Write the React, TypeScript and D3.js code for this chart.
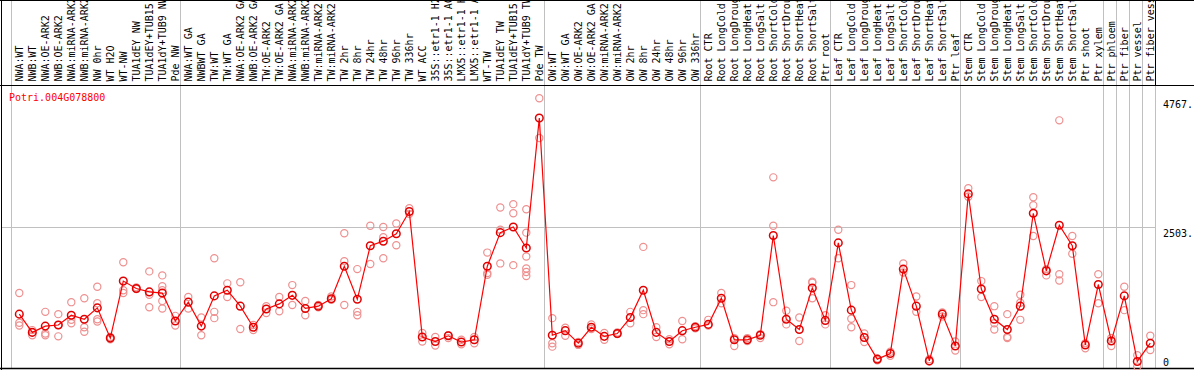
import * as d3 from 'd3';
import {useEffect, useRef} from "react";

const geneId = "Potri.004G078800";

const samples = [
    "NWA:WT", "NWB:WT", "NWA:OE-ARK2", "NWB:OE-ARK2", "NWA:miRNA-ARK2", "NWB:miRNA-ARK2",
    "NW 0hr", "WT H2O", "WT-NW", "TUA1dEY NW", "TUA1dEY+TUB15 NW", "TUA1dY+TUB9 NW", "Pde NW",
    "NWA:WT GA", "NWBWT GA", "TW:WT", "TW:WT GA", "NWA:OE-ARK2 GA", "NWB:OE-ARK2 GA",
    "TW:OE-ARK2", "TW:OE-ARK2 GA", "NWA:miRNA-ARK2", "NWB:miRNA-ARK2", "TW:miRNA-ARK2", "TW:miRNA-ARK2",
    "TW 2hr", "TW 8hr", "TW 24hr", "TW 48hr", "TW 96hr", "TW 336hr", "WT ACC",
    "35S::etr1-1 H2O", "35S::etr1-1 ACC", "LMX5::etr1-1 H2O", "LMX5::etr1-1 ACC",
    "WT-TW", "TUA1dEY TW", "TUA1dEY+TUB15 TW", "TUA1dY+TUB9 TW", "Pde TW",
    "OW:WT", "OW:WT GA", "OW:OE-ARK2", "OW:OE-ARK2 GA", "OW:miRNA-ARK2", "OW:miRNA-ARK2",
    "OW 2hr", "OW 8hr", "OW 24hr", "OW 48hr", "OW 96hr", "OW 336hr",
    "Root CTR", "Root LongCold", "Root LongDrought", "Root LongHeat", "Root LongSalt",
    "Root ShortCold", "Root ShortDrought", "Root ShortHeat", "Root ShortSalt", "Ptr root",
    "Leaf CTR", "Leaf LongCold", "Leaf LongDrought", "Leaf LongHeat", "Leaf LongSalt",
    "Leaf ShortCold", "Leaf ShortDrought", "Leaf ShortHeat", "Leaf ShortSalt", "Ptr leaf",
    "Stem CTR", "Stem LongCold", "Stem LongDrought", "Stem LongHeat", "Stem LongSalt",
    "Stem ShortCold", "Stem ShortDrought", "Stem ShortHeat", "Stem ShortSalt", "Ptr shoot",
    "Ptr xylem", "Ptr phloem", "Ptr fiber", "Ptr vessel", "Ptr fiber vessel"
];

// mean expression per sample
const means = [
    980, 660, 770, 790, 960, 890, 1090, 560, 1560, 1430, 1370, 1350, 860,
    1190, 770, 1300, 1400, 1120, 750, 1070, 1160, 1310, 1080, 1120, 1250,
    1820, 1240, 2180, 2260, 2390, 2780, 580, 500, 600, 490, 530,
    1820, 2410, 2510, 2140, 4420,
    610, 690, 470, 750, 590, 640, 920, 1400, 660, 500, 690, 750,
    800, 1260, 530, 530, 610, 2360, 890, 710, 1440, 870,
    2230, 1050, 570, 190, 290, 1770, 1120, 160, 980, 420,
    3090, 1420, 890, 710, 1120, 2750, 1740, 2540, 2180, 440,
    1500, 510, 1300, 150, 470
];

// individual replicates per sample
const replicates = [
    [1350, 830, 780], [700, 610, 660], [1020, 640, 610], [980, 790, 590], [1190, 880, 820],
    [1260, 750, 670], [1460, 1170, 890, 850], [580, 540], [1890, 1400, 1350], [1450, 1420],
    [1730, 1320, 1100], [1660, 1470, 1400, 1210, 1080], [950, 780],
    [1280, 1080], [920, 610], [1960, 1020, 910], [1520, 1280], [1540, 720], [790, 700],
    [1120, 1000], [1280, 1030], [1490, 1140], [1210, 960], [1100, 1140], [1290, 1230],
    [2400, 1910, 1140], [1770, 1020, 960], [2530, 1860], [2510, 2330, 1960], [2570, 2190],
    [2840, 2740], [650, 500], [580, 430], [610, 560], [530, 450], [580, 470],
    [2060, 1700, 1670], [2850, 2460, 1870], [2910, 2750, 1840],
    [2820, 2410, 1990, 1780, 1720, 1650], [4767, 4070],
    [910, 470, 410], [740, 600], [490, 440], [800, 720], [650, 530], [630, 660],
    [1020, 820], [2160, 1050, 980], [750, 580], [540, 450], [860, 540], [770, 730],
    [880, 780], [1350, 1170], [560, 420], [560, 510], [630, 560], [3380, 2530, 1190],
    [1040, 800], [920, 510], [1550, 1530, 1260], [960, 800],
    [2460, 1960], [1490, 900, 750], [640, 490], [200, 170], [320, 250], [1870, 1710],
    [1290, 1020], [190, 150], [1010, 940], [500, 340],
    [3190, 3040], [1560, 1280], [1120, 820, 710], [980, 580, 560], [1320, 1180, 880],
    [3030, 2890, 2350], [1770, 1660], [4380, 1680, 1570], [2350, 2040], [470, 380],
    [1680, 1170], [560, 420], [1460, 1050], [260, 60], [600, 350]
];

// sample index after which a group separator is drawn
const groupEnds = [0, 13, 41, 53, 63, 73, 84, 85, 86, 87, 88];

const yTicks = [0, 2503, 4767];
const yTickLabels = ["0", "2503.", "4767."];

export default function App() {
    const svgRef = useRef(null);

    const width = 1194;
    const height = 370;
    const headerH = 85.5;
    const plotRight = 1155.5;
    const font = "'DejaVu Sans Mono', monospace";

    useEffect(() => {
        const svg = d3.select(svgRef.current)
            .attr('width', width)
            .attr('height', height);

        svg.selectAll("*").remove();

        const xScale = d3.scaleLinear()
            .domain([1, samples.length])
            .range([19.3, 19.3 + 13 * (samples.length - 1)]);

        const yScale = d3.scaleLinear()
            .domain([0, 4767])
            .range([370, 98.3]);

        // group separators (go through the header too)
        svg.append("g")
            .selectAll("line")
            .data(groupEnds)
            .enter().append("line")
            .attr("x1", d => Math.round(xScale(d) + 5) + 0.5)
            .attr("x2", d => Math.round(xScale(d) + 5) + 0.5)
            .attr("y1", 0)
            .attr("y2", height - 1)
            .attr("stroke", "#c0c0c0")
            .attr("stroke-width", 1);

        // horizontal grid at mid tick
        svg.append("line")
            .attr("x1", 1)
            .attr("x2", plotRight)
            .attr("y1", Math.round(yScale(yTicks[1])) + 0.5)
            .attr("y2", Math.round(yScale(yTicks[1])) + 0.5)
            .attr("stroke", "#c0c0c0");

        // frame lines
        const frame = svg.append("g").attr("stroke", "#000").attr("stroke-width", 1);
        frame.append("line").attr("x1", 0).attr("x2", width).attr("y1", 0.5).attr("y2", 0.5);
        frame.append("line").attr("x1", 0).attr("x2", width).attr("y1", headerH).attr("y2", headerH);
        frame.append("line").attr("x1", 0).attr("x2", width).attr("y1", 368.5).attr("y2", 368.5).attr("stroke-width", 1.5);
        frame.append("line").attr("x1", 1.5).attr("x2", 1.5).attr("y1", 0).attr("y2", height);
        frame.append("line").attr("x1", plotRight).attr("x2", plotRight).attr("y1", 0).attr("y2", headerH);

        // sample labels
        svg.append("g")
            .selectAll("text")
            .data(samples)
            .enter().append("text")
            .attr("transform", (d, i) => `translate(${xScale(i + 1) + 4},81.5) rotate(-90)`)
            .attr("font-family", font)
            .attr("font-size", 10)
            .attr("fill", "#000")
            .text(d => d);

        // y labels
        svg.append("g")
            .selectAll("text")
            .data(yTicks)
            .enter().append("text")
            .attr("x", 1163)
            .attr("y", (d, i) => i === 0 ? 366 : yScale(d) + 10)
            .attr("font-family", font)
            .attr("font-size", 10)
            .attr("fill", "#000")
            .text((d, i) => yTickLabels[i]);

        // gene title
        svg.append("text")
            .attr("x", 9)
            .attr("y", 100.5)
            .attr("font-family", font)
            .attr("font-size", 10)
            .attr("fill", "#ff0000")
            .text(geneId);

        const plot = svg.append("g");

        // replicate circles
        const reps = replicates.flatMap((vals, i) => vals.map(v => ({i: i + 1, v})));
        plot.selectAll(".rep")
            .data(reps)
            .enter().append("circle")
            .classed("rep", true)
            .attr("cx", d => xScale(d.i))
            .attr("cy", d => yScale(d.v))
            .attr("r", 3.6)
            .attr("fill", "none")
            .attr("stroke", "#ee9090")
            .attr("stroke-width", 1.2);

        // mean line
        const line = d3.line()
            .x((d, i) => xScale(i + 1))
            .y(d => yScale(d));

        plot.append("path")
            .datum(means)
            .attr("d", line)
            .attr("fill", "none")
            .attr("stroke", "#ff0000")
            .attr("stroke-width", 1.2);

        // mean circles
        plot.selectAll(".mean")
            .data(means)
            .enter().append("circle")
            .classed("mean", true)
            .attr("cx", (d, i) => xScale(i + 1))
            .attr("cy", d => yScale(d))
            .attr("r", 3.8)
            .attr("fill", "none")
            .attr("stroke", "#e00000")
            .attr("stroke-width", 1.5);

        return () => {};
    }, [])

    return (
        <div style={{position: "absolute", left: 0, top: 0, background: "#fff"}}>
            <svg ref={svgRef} viewBox="0 0 1194 370" style={{display: "block"}}></svg>
        </div>
    )
}
